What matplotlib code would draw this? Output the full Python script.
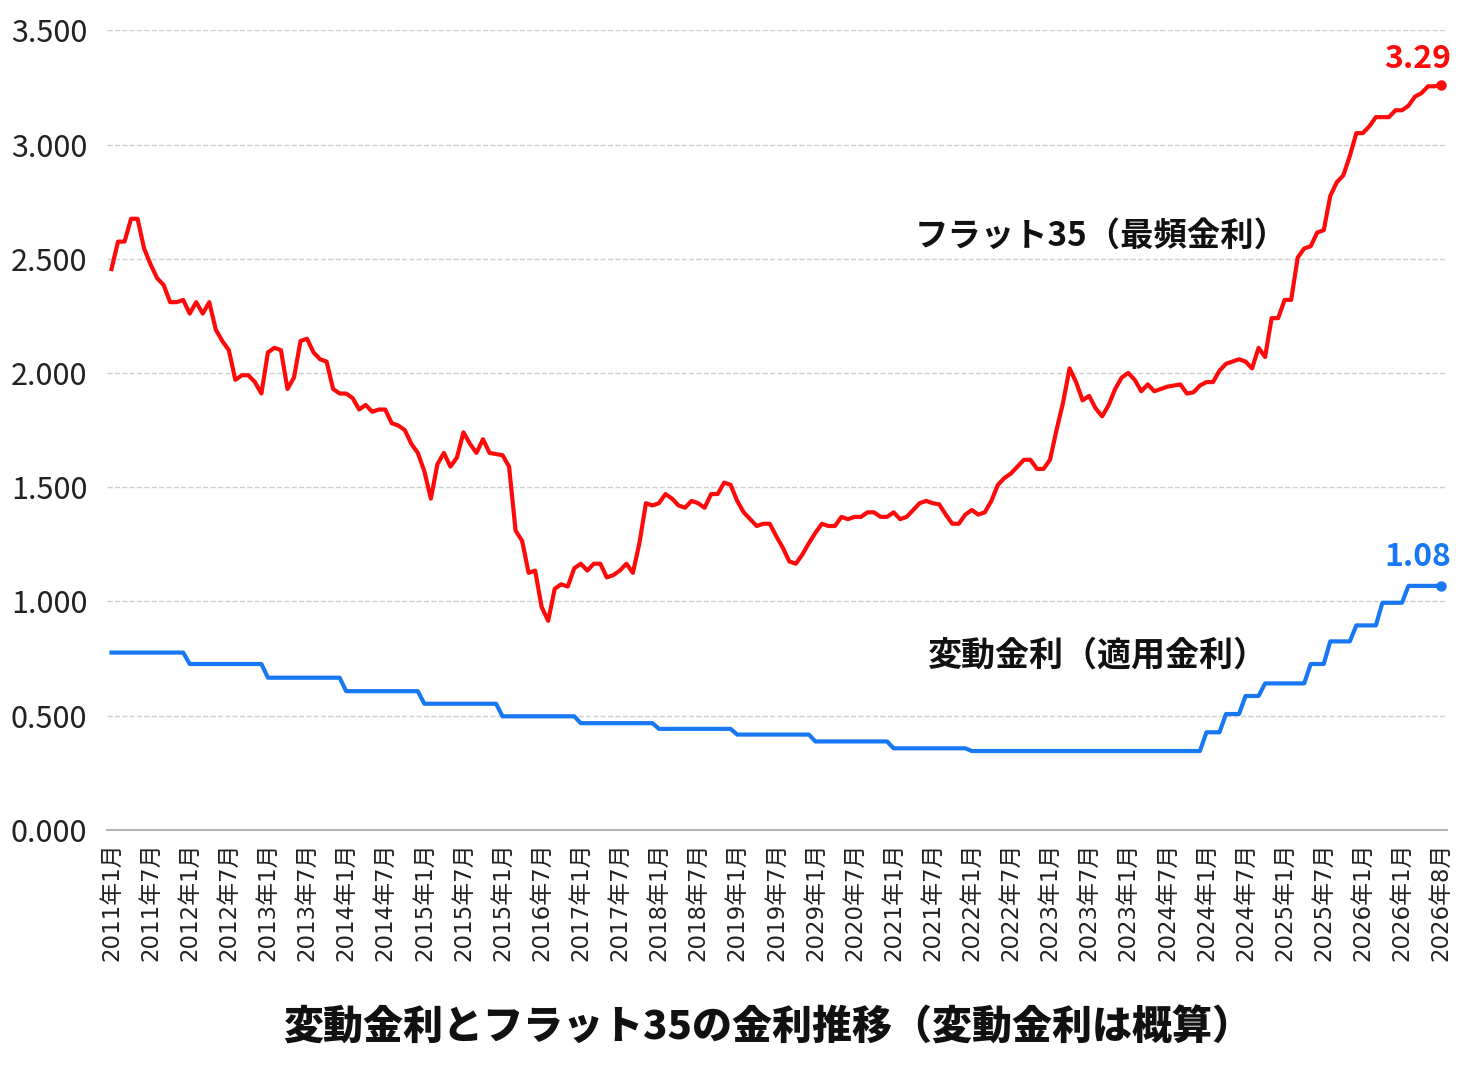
import numpy as np
import matplotlib
matplotlib.use("Agg")
import matplotlib.pyplot as plt

plt.rcParams['font.family'] = ['Noto Sans CJK JP', 'DejaVu Sans']

# monthly data, 2011-01 onward (205 points)
flat35 = [
    2.455, 2.575, 2.575, 2.675, 2.675, 2.545, 2.475, 2.415, 2.385, 2.31,
    2.31, 2.32, 2.26, 2.31, 2.26, 2.31, 2.19, 2.14, 2.10, 1.97,
    1.99, 1.99, 1.96, 1.91, 2.09, 2.11, 2.10, 1.93, 1.98, 2.14,
    2.15, 2.09, 2.06, 2.05, 1.93, 1.91, 1.91, 1.89, 1.84, 1.86,
    1.83, 1.84, 1.84, 1.78, 1.77, 1.75, 1.69, 1.65, 1.57, 1.45,
    1.60, 1.65, 1.59, 1.63, 1.74, 1.69, 1.65, 1.71, 1.65, 1.645,
    1.64, 1.59, 1.31, 1.265, 1.125, 1.135, 0.975, 0.915, 1.055, 1.075,
    1.065, 1.145, 1.165, 1.135, 1.165, 1.165, 1.105, 1.115, 1.135, 1.165,
    1.125, 1.255, 1.43, 1.42, 1.43, 1.47, 1.45, 1.42, 1.41, 1.44,
    1.43, 1.41, 1.47, 1.47, 1.52, 1.51, 1.44, 1.39, 1.36, 1.33,
    1.34, 1.34, 1.285, 1.235, 1.175, 1.165, 1.205, 1.255, 1.30, 1.34,
    1.33, 1.33, 1.37, 1.36, 1.37, 1.37, 1.39, 1.39, 1.37, 1.37,
    1.39, 1.36, 1.37, 1.40, 1.43, 1.44, 1.43, 1.425, 1.38, 1.34,
    1.34, 1.38, 1.40, 1.38, 1.39, 1.44, 1.51, 1.54, 1.56, 1.59,
    1.62, 1.62, 1.58, 1.58, 1.62, 1.75, 1.87, 2.02, 1.96, 1.88,
    1.90, 1.845, 1.81, 1.86, 1.93, 1.98, 2.00, 1.97, 1.92, 1.95,
    1.92, 1.93, 1.94, 1.945, 1.95, 1.91, 1.915, 1.945, 1.96, 1.96,
    2.01, 2.04, 2.05, 2.06, 2.05, 2.02, 2.11, 2.07, 2.24, 2.24,
    2.32, 2.32, 2.505, 2.545, 2.555, 2.615, 2.625, 2.775, 2.835, 2.865,
    2.95, 3.05, 3.05, 3.08, 3.12, 3.12, 3.12, 3.15, 3.15, 3.17,
    3.21, 3.225, 3.255, 3.255, 3.26,
]

# variable rate: step levels and how many months each lasted
hendo_levels = [0.776, 0.726, 0.666, 0.607, 0.552, 0.497, 0.467, 0.442, 0.417, 0.387,
                0.357, 0.345, 0.427, 0.507, 0.586, 0.641, 0.726, 0.825, 0.895, 0.994, 1.068]
hendo_months = [12, 12, 12, 12, 12, 12, 12, 12, 12, 12,
                12, 36, 3, 3, 3, 7, 3, 4, 4, 4, 6]
hendo = np.repeat(hendo_levels, hendo_months)

tick_labels = [
    "2011年1月", "2011年7月", "2012年1月", "2012年7月", "2013年1月", "2013年7月",
    "2014年1月", "2014年7月", "2015年1月", "2015年7月", "2015年1月", "2016年7月",
    "2017年1月", "2017年7月", "2018年1月", "2018年7月", "2019年1月", "2019年7月",
    "2029年1月", "2020年7月", "2021年1月", "2021年7月", "2022年1月", "2022年7月",
    "2023年1月", "2023年7月", "2023年1月", "2024年7月", "2024年1月", "2024年7月",
    "2025年1月", "2025年7月", "2026年1月", "2026年1月", "2026年8月",
]

red = '#FF0A0A'
blue = '#1877F2'

months = np.arange(len(flat35))

fig = plt.figure(figsize=(14.73, 10.68), dpi=100)
ax = fig.add_axes([0.0726, 0.2230, 0.9097, 0.7486])

ax.plot(months, flat35, color=red, linewidth=3, zorder=3)
ax.plot(months, hendo, color=blue, linewidth=3, zorder=3)
ax.plot(months[-1], flat35[-1], 'o', color=red, markersize=6.5, zorder=4)
ax.plot(months[-1], hendo[-1], 'o', color=blue, markersize=6.5, zorder=4)

ax.set_xlim(-0.7, 204.9)
ax.set_ylim(0, 3.5)
yt = np.arange(0, 3.51, 0.5)
ax.set_yticks(yt)
ax.set_yticklabels([f"{v:.3f}" for v in yt], fontsize=22, color='#222222')
ax.set_xticks(np.arange(0, len(flat35), 6))
ax.set_xticklabels(tick_labels, rotation=90, fontsize=16.5, color='#222222',
                   family=['DejaVu Sans', 'Noto Sans CJK JP'])
ax.tick_params(axis='both', length=0)
ax.tick_params(axis='y', pad=14)
ax.tick_params(axis='x', pad=9)

ax.grid(axis='y', linestyle='--', color='#cfcfcf', linewidth=1)
ax.set_axisbelow(True)
for s in ['top', 'right', 'left']:
    ax.spines[s].set_visible(False)
ax.spines['bottom'].set_color('#b5b5b5')
ax.spines['bottom'].set_linewidth(1.5)

# series labels
ax.text(151.8, 2.60, "フラット35（最頻金利）", fontsize=24, fontweight='bold',
        ha='center', va='center', color='#111111')
ax.text(151.4, 0.765, "変動金利（適用金利）", fontsize=24.5, fontweight='bold',
        ha='center', va='center', color='#111111')
ax.annotate("3.29", (months[-1], flat35[-1]), xytext=(7, 19), textcoords='offset points',
            ha='right', va='center', fontsize=23, fontweight='bold', color=red)
ax.annotate("1.08", (months[-1], hendo[-1]), xytext=(7, 21), textcoords='offset points',
            ha='right', va='center', fontsize=23, fontweight='bold', color=blue)

fig.text(0.521, 1 - 1028 / 1068, "変動金利とフラット35の金利推移（変動金利は概算）",
         fontsize=28.8, fontweight='heavy', ha='center', va='center', color='#111111')

fig.savefig('out.png', dpi=100, facecolor='white')
